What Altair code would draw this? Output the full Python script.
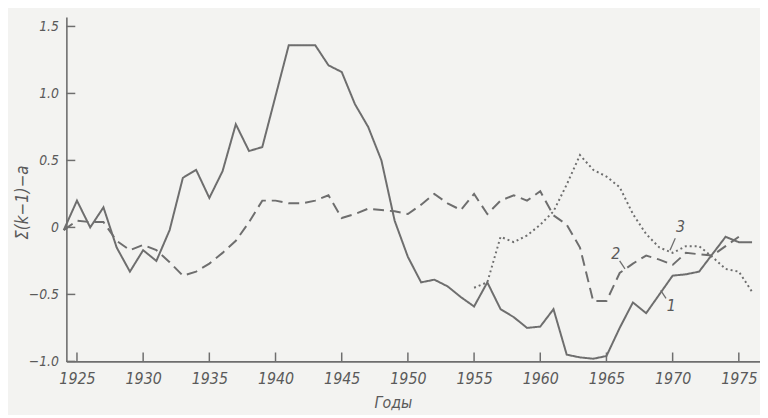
import altair as alt
import pandas as pd

# ---- data ----
years_1 = list(range(1924, 1977))
curve_1 = [-0.02, 0.20, 0.00, 0.15, -0.15, -0.33, -0.17, -0.25, -0.02, 0.37,
           0.43, 0.22, 0.42, 0.77, 0.57, 0.60, 0.98, 1.36, 1.36, 1.36,
           1.21, 1.16, 0.92, 0.75, 0.50, 0.05, -0.22, -0.41, -0.39, -0.44,
           -0.52, -0.59, -0.41, -0.61, -0.67, -0.75, -0.74, -0.61, -0.95, -0.97,
           -0.98, -0.96, -0.75, -0.56, -0.64, -0.50, -0.36, -0.35, -0.33, -0.20,
           -0.07, -0.11, -0.11]

years_2 = list(range(1924, 1976))
curve_2 = [-0.02, 0.05, 0.04, 0.04, -0.10, -0.17, -0.13, -0.17, -0.26, -0.36,
           -0.33, -0.27, -0.19, -0.10, 0.04, 0.20, 0.20, 0.18, 0.18, 0.20,
           0.24, 0.07, 0.10, 0.14, 0.13, 0.12, 0.10, 0.17, 0.25, 0.18,
           0.13, 0.25, 0.10, 0.20, 0.24, 0.20, 0.27, 0.09, 0.02, -0.15,
           -0.55, -0.55, -0.34, -0.27, -0.21, -0.24, -0.28, -0.19, -0.20, -0.21,
           -0.14, -0.07]

years_3 = list(range(1955, 1977))
curve_3 = [-0.45, -0.41, -0.07, -0.11, -0.06, 0.02, 0.12, 0.32, 0.54, 0.43,
           0.38, 0.30, 0.10, -0.05, -0.15, -0.19, -0.14, -0.14, -0.22, -0.31,
           -0.33, -0.48]

series_names = ["1", "2", "3"]
x_ticks = [1925, 1930, 1935, 1940, 1945, 1950, 1955, 1960, 1965, 1970, 1975]
y_ticks = [-1.0, -0.5, 0.0, 0.5, 1.0, 1.5]

label_text = ["1", "2", "3"]
label_year = [1969.9, 1965.7, 1970.6]
label_value = [-0.59, -0.20, 0.00]
leader_x1 = [1969.5, 1966.0, 1970.2]
leader_y1 = [-0.53, -0.25, -0.08]
leader_x2 = [1969.1, 1966.4, 1969.8]
leader_y2 = [-0.47, -0.31, -0.17]

# ---- tables ----
rows = []
for name, ys, vs in zip(series_names, [years_1, years_2, years_3], [curve_1, curve_2, curve_3]):
    for y, v in zip(ys, vs):
        rows.append({"series": name, "year": y, "value": v})
df = pd.DataFrame(rows)
df_xt = pd.DataFrame({"year": x_ticks})
df_yt = pd.DataFrame({"value": y_ticks})
df_lab = pd.DataFrame({"t": label_text, "year": label_year, "value": label_value})
df_lead = pd.DataFrame({"x1": leader_x1, "y1": leader_y1, "x2": leader_x2, "y2": leader_y2})

FONT = "DejaVu Sans Condensed, DejaVu Sans, sans-serif"
INK = "#5a5a5a"
LINE = "#6e6e6e"

W, H = 701, 348
xscale = alt.Scale(domain=[1924.2, 1976.6], nice=False, zero=False)
yscale = alt.Scale(domain=[-1.0, 1.57], nice=False, zero=False)

x_axis = alt.Axis(values=x_ticks, format="d", grid=False, tickSize=0, labelPadding=9,
                  labelFont=FONT, labelFontSize=16, labelFontStyle="italic", labelColor=INK,
                  domainColor=LINE, domainWidth=1.6, title="Годы", titleFont=FONT,
                  titleFontSize=16, titleFontStyle="italic", titleFontWeight="normal",
                  titleColor=INK, titleX=330, titleY=42, titleAlign="center",
                  titleBaseline="middle", labelFlush=False)
y_axis = alt.Axis(values=y_ticks, grid=False, tickSize=0, labelPadding=8,
                  labelExpr="datum.value == 0 ? '0' : format(datum.value, '.1f')",
                  labelFont=FONT, labelFontSize=14, labelFontStyle="italic", labelColor=INK,
                  domainColor=LINE, domainWidth=1.6, title="Σ(k−1)−a", titleFont=FONT,
                  titleFontSize=17, titleFontStyle="italic", titleFontWeight="normal",
                  titleColor=INK, titleX=-44, titleY=187, titleAngle=-90,
                  titleAlign="center", titleBaseline="middle", labelFlush=False)

lines = alt.Chart(df).mark_line(color=LINE, strokeWidth=2).encode(
    x=alt.X("year:Q", scale=xscale, axis=x_axis),
    y=alt.Y("value:Q", scale=yscale, axis=y_axis),
    strokeDash=alt.StrokeDash("series:N", scale=alt.Scale(domain=series_names,
                              range=[[1, 0], [11, 6], [2, 3]]), legend=None),
    detail="series:N",
)

xticks = alt.Chart(df_xt).mark_rule(color=LINE, strokeWidth=1.5).encode(
    x=alt.X("year:Q", scale=xscale), y=alt.value(H), y2=alt.value(H - 9))
yticks = alt.Chart(df_yt).mark_rule(color=LINE, strokeWidth=1.5).encode(
    y=alt.Y("value:Q", scale=yscale), x=alt.value(0), x2=alt.value(9))

labels = alt.Chart(df_lab).mark_text(font=FONT, fontSize=16, fontStyle="italic",
                                     color=INK).encode(
    x=alt.X("year:Q", scale=xscale), y=alt.Y("value:Q", scale=yscale), text="t:N")
leaders = alt.Chart(df_lead).mark_rule(color=LINE, strokeWidth=1.3).encode(
    x=alt.X("x1:Q", scale=xscale), y=alt.Y("y1:Q", scale=yscale),
    x2="x2:Q", y2="y2:Q")

chart = alt.layer(lines, xticks, yticks, leaders, labels).properties(
    width=W, height=H,
    autosize=alt.AutoSizeParams(type="none"),
    padding={"left": 59, "top": 7, "right": 0, "bottom": 52},
    background="#f3f3f1",
).configure_view(stroke=None)

chart.save("out.html", embed_options={"renderer": "svg", "actions": False})
